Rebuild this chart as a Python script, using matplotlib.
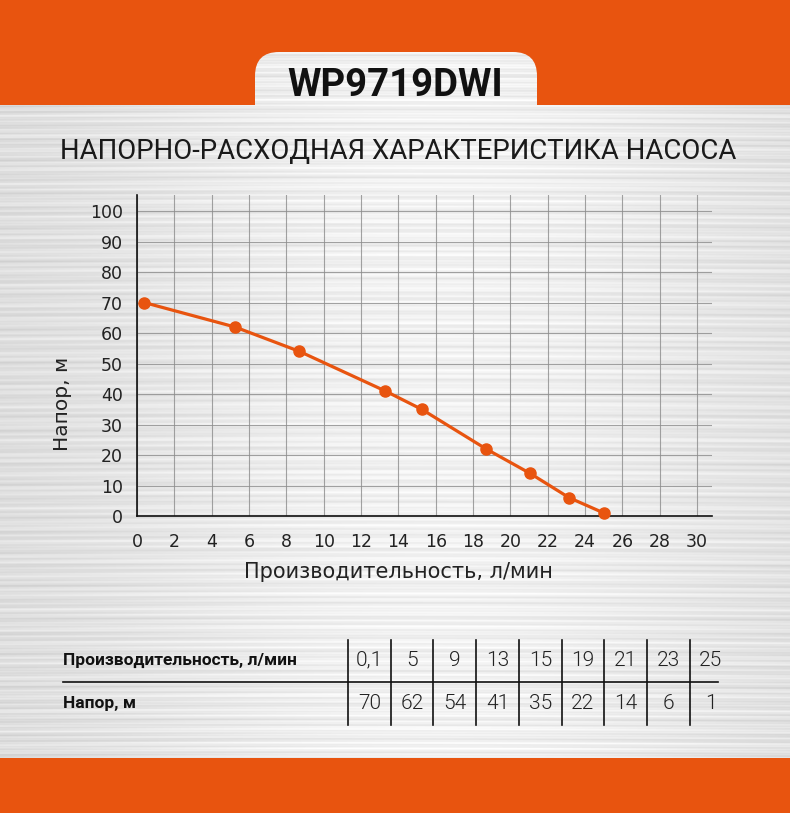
import numpy as np
import matplotlib
matplotlib.use("Agg")
import matplotlib.pyplot as plt
from matplotlib.patches import Rectangle, FancyBboxPatch

# ---- data ----
flow_plot = [0.4, 5.25, 8.7, 13.3, 15.25, 18.7, 21.05, 23.15, 25.0]
head = [70, 62, 54, 41, 35, 22, 14, 6, 1]
flow_table = ["0,1", "5", "9", "13", "15", "19", "21", "23", "25"]
head_table = ["70", "62", "54", "41", "35", "22", "14", "6", "1"]
x_ticks = list(range(0, 31, 2))
y_ticks = list(range(0, 101, 10))

title = "WP9719DWI"
subtitle = "НАПОРНО-РАСХОДНАЯ ХАРАКТЕРИСТИКА НАСОСА"
xlabel = "Производительность, л/мин"
ylabel = "Напор, м"
row1_label = "Производительность, л/мин"
row2_label = "Напор, м"

ORANGE = "#E8540F"
W, H = 790, 813
NARROW = ["Roboto", "DejaVu Sans"]

fig = plt.figure(figsize=(W / 100, H / 100), dpi=100)

# background (brushed metal texture, deterministic)
bg = fig.add_axes([0, 0, 1, 1])
bg.set_xlim(0, W)
bg.set_ylim(H, 0)
bg.axis("off")
yy, xx = np.mgrid[0:H, 0:W]
xn = xx / W
base = 0.85 + 0.10 * np.exp(-((xn - 0.55) / 0.45) ** 2)
streak = (0.025 * np.sin(yy * 0.93 + 3 * np.sin(xx * 0.004))
          + 0.018 * np.sin(yy * 2.31 + 1.0 + 2 * np.cos(xx * 0.003))
          + 0.015 * np.sin(yy * 0.37 + 2.0)
          + 0.012 * np.sin(yy * 5.1 + xx * 0.002))
tex = np.clip(base + streak, 0, 1)
img = np.dstack([tex, tex, tex])
bg.imshow(img, extent=(0, W, H, 0), aspect="auto", zorder=0, interpolation="bilinear")

# orange bands
bg.add_patch(Rectangle((0, 0), W, 105, color=ORANGE, zorder=1, lw=0))
bg.add_patch(Rectangle((0, 758), W, H - 758, color=ORANGE, zorder=1, lw=0))
# tab with rounded top corners (same texture)
tab = FancyBboxPatch((255 + 24, 52 + 24), 537 - 255 - 48, 80,
                     boxstyle="round,pad=24", transform=bg.transData,
                     facecolor="none", edgecolor="none")
bg.add_patch(tab)
tab_img = bg.imshow(img, extent=(0, W, H, 0), aspect="auto",
                    zorder=2, interpolation="bilinear")
tab_img.set_clip_path(tab)

bg.text(395, 86, title, ha="center", va="center", fontsize=27.5,
        fontweight="bold", family=NARROW, color="#111111", zorder=3)
bg.text(398, 152, subtitle, ha="center", va="center", fontsize=19.8,
        family=NARROW, color="#1a1a1a", zorder=3)

# ---- chart ----
ax = fig.add_axes([137 / W, (H - 516) / H, 575 / W, 321 / H])
ax.set_facecolor("none")
ax.set_xlim(0, 30.8)
ax.set_ylim(0, 105.3)
ax.set_xticks(x_ticks)
ax.set_yticks(y_ticks)
ax.grid(True, color="#8c8c8c", lw=0.8, alpha=0.8)
ax.set_axisbelow(True)
for s in ["top", "right"]:
    ax.spines[s].set_visible(False)
for s in ["left", "bottom"]:
    ax.spines[s].set_color("#111111")
    ax.spines[s].set_linewidth(1.2)
ax.tick_params(length=0, labelsize=12.5, colors="#222222")
ax.tick_params(axis="y", pad=10)
ax.tick_params(axis="x", pad=12)
ax.plot(flow_plot, head, color=ORANGE, lw=2.3, marker="o", markersize=8,
        clip_on=False, zorder=5)
ax.set_xlabel(xlabel, fontsize=15, color="#222222")
ax.set_ylabel(ylabel, fontsize=14.5, color="#222222")
ax.xaxis.set_label_coords((398 - 137) / 575, -(572 - 516) / 321)
ax.yaxis.set_label_coords(-(137 - 62) / 575, (516 - 404) / 321)
ax.xaxis.label.set_va("center")
ax.yaxis.label.set_va("center")

# ---- table ----
vlines_x = [348, 391, 433, 476, 519, 562, 604, 647, 690]
cell_right = 732
centers = [(vlines_x[i] + (vlines_x[i + 1] if i + 1 < len(vlines_x) else cell_right)) / 2
           for i in range(len(vlines_x))]
for xv in vlines_x:
    bg.plot([xv, xv], [640, 725], color="#111111", lw=1.2, zorder=3)
bg.plot([63, 718], [682, 682], color="#111111", lw=1.2, zorder=3)
bg.text(63, 660, row1_label, ha="left", va="center", fontsize=12.5,
        fontweight="bold", family=NARROW, color="#111111", zorder=3)
bg.text(63, 703, row2_label, ha="left", va="center", fontsize=12.5,
        fontweight="bold", family=NARROW, color="#111111", zorder=3)
for c, a, b in zip(centers, flow_table, head_table):
    bg.text(c, 660, a, ha="center", va="center", fontsize=15, fontweight=300,
            family=NARROW, color="#222222", zorder=3)
    bg.text(c, 703, b, ha="center", va="center", fontsize=15, fontweight=300,
            family=NARROW, color="#222222", zorder=3)

fig.savefig("out.png", dpi=100)
